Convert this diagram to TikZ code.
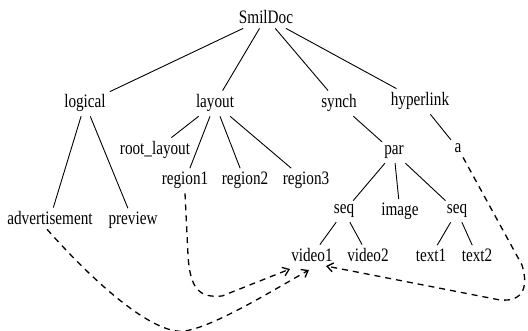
\documentclass[tikz,border=0pt]{standalone}
\usepackage{fontspec}
\setmainfont{Liberation Serif}[FakeStretch=0.8]
\usetikzlibrary{arrows.meta}
\begin{document}
\begin{tikzpicture}[x=1pt,y=-1pt,
    every node/.style={anchor=base,inner sep=4pt,font=\fontsize{19}{22}\selectfont},
    edge/.style={line width=0.9pt},
    link/.style={line width=1.3pt,dash pattern=on 6pt off 5pt,-{Straight Barb[length=6pt,width=9pt]}}]
    \useasboundingbox (0,0) rectangle (528,331);
    % tree
    \node (smil) at (266,24) {SmilDoc};
    \node (logical) at (85,108) {logical};
    \node (layout) at (215,108) {layout};
    \node (synch) at (339,108) {synch};
    \node (hyperlink) at (420,106) {hyperlink};
    \node (root) at (155,155) {root\_layout};
    \node (par) at (394,155) {par};
    \node (a) at (458,153) {a};
    \node (region1) at (185,185) {region1};
    \node (region2) at (245,185) {region2};
    \node (region3) at (306,185) {region3};
    \node (advert) at (50,225) {advertisement};
    \node (preview) at (133,225) {preview};
    \node (seqa) at (344,214) {seq};
    \node (image) at (400,216) {image};
    \node (seqb) at (457,214) {seq};
    \node (video1) at (312,262) {video1};
    \node (video2) at (368,262) {video2};
    \node (text1) at (431,262) {text1};
    \node (text2) at (477,262) {text2};
    \foreach \p/\c in {smil/logical,smil/layout,smil/synch,smil/hyperlink,
        logical/advert,logical/preview,layout/root,layout/region1,layout/region2,
        layout/region3,synch/par,hyperlink/a,par/seqa,par/image,par/seqb,
        seqa/video1,seqa/video2,seqb/text1,seqb/text2}
      \draw[edge] (\p) -- (\c);
    % links to video1
    \coordinate (in1) at (290,269);
    \coordinate (in2) at (309,270);
    \coordinate (in3) at (326,266);
    \draw[link] (region1.south) -- (188,255) .. controls (190,290) and (200,298) .. (222,296) -- (in1);
    \draw[link] (advert.-105) .. controls (110,300) and (160,335) .. (185,331)
      .. controls (215,326) and (270,292) .. (in2);
    \draw[link] (a.-60) -- (522,265) .. controls (528,285) and (525,302) .. (500,300) -- (in3);
\end{tikzpicture}
\end{document}
